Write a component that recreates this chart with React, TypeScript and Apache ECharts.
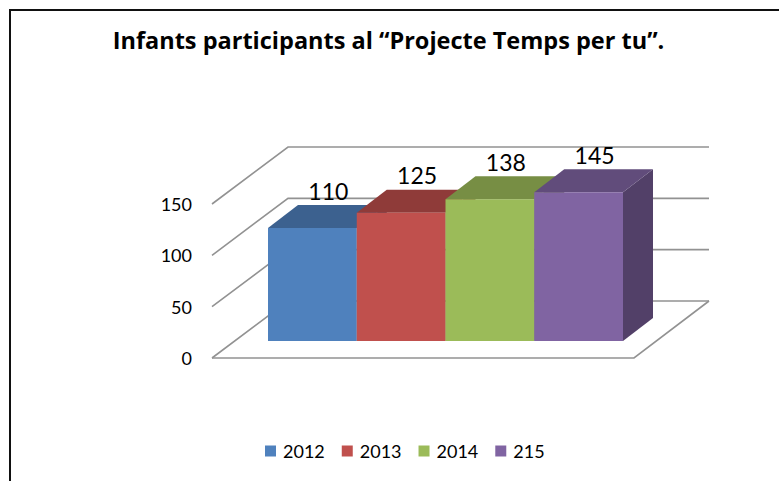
import React, { useEffect, useRef } from "react";
import * as echarts from "echarts";

const titleText = "Infants participants al “Projecte Temps per tu”.";
const categories = ["2012", "2013", "2014", "215"];
const values = [110, 125, 138, 145];
const yTicks = [0, 50, 100, 150];
const frontColors = ["#4f81bd", "#c0504d", "#9bbb59", "#8064a2"];
const topColors = ["#3c618f", "#8f3b39", "#778e44", "#614c7b"];
const sideColors = ["#344f75", "#743130", "#617437", "#524068"];

const FONT = "Lato";
const GRID = { left: 268, top: 204, width: 355, height: 154 };
const WALL_LEFT_PAD = 56;
const WALL_RIGHT_FRONT_PAD = 11;
const WALL_DX = 76;
const WALL_DY = 57;
const BAR_LIFT = 17;
const BAR_DX = 30;
const BAR_DY = 23;
const WALL_STROKE = { stroke: "#929292", lineWidth: 1.6, fill: "none" };

function renderWall(params: any, api: any) {
  const v = api.value(0);
  const y = api.coord([0, v])[1];
  const x0 = GRID.left - WALL_LEFT_PAD;
  const x1 = GRID.left + GRID.width + WALL_RIGHT_FRONT_PAD;
  const children: any[] = [
    {
      type: "polyline",
      shape: { points: [[x0, y], [x0 + WALL_DX, y - WALL_DY], [x1 + WALL_DX - 1, y - WALL_DY]] },
      style: WALL_STROKE,
    },
  ];
  if (v === 0) {
    children.push({
      type: "polyline",
      shape: { points: [[x0, y], [x1, y], [x1 + WALL_DX - 1, y - WALL_DY]] },
      style: WALL_STROKE,
    });
  }
  return { type: "group", children };
}

function makeBarRenderer(i: number) {
  return (params: any, api: any) => {
    const v = api.value(1);
    const band = api.size([1, 0])[0];
    const c = api.coord([api.value(0), v]);
    const base = api.coord([api.value(0), 0]);
    const l = c[0] - band / 2;
    const r = l + band;
    const t = c[1] - BAR_LIFT;
    const b = base[1] - BAR_LIFT;
    return {
      type: "group",
      children: [
        {
          type: "polygon",
          shape: { points: [[r, t], [r + BAR_DX, t - BAR_DY], [r + BAR_DX, b - BAR_DY], [r, b]] },
          style: { fill: sideColors[i] },
        },
        {
          type: "polygon",
          shape: { points: [[l, t], [l + BAR_DX, t - BAR_DY], [r + BAR_DX, t - BAR_DY], [r, t]] },
          style: { fill: topColors[i] },
        },
        {
          type: "rect",
          shape: { x: l, y: t, width: band, height: b - t },
          style: { fill: frontColors[i] },
        },
        {
          type: "text",
          style: {
            text: String(v),
            x: (l + r) / 2 + 16,
            y: t - 37.5,
            align: "center",
            verticalAlign: "middle",
            fill: "#000",
            font: `23px ${FONT}`,
          },
        },
      ],
    };
  };
}

export default function App() {
  const ref = useRef<HTMLDivElement>(null);
  useEffect(() => {
    const chart = echarts.init(ref.current!, undefined, { renderer: "svg" });
    chart.setOption({
      animation: false,
      backgroundColor: "#fff",
      title: {
        text: titleText,
        left: 383.5,
        top: 23,
        textAlign: "center",
        textStyle: { fontFamily: "Open Sans", fontWeight: "bold", fontSize: 23.5, color: "#000" },
      },
      legend: {
        data: categories,
        left: 260,
        top: 437,
        icon: "rect",
        itemWidth: 11,
        itemHeight: 11,
        itemGap: 17,
        textStyle: { fontFamily: FONT, fontSize: 18, color: "#000", padding: [0, 0, 0, 2] },
      },
      grid: { ...GRID, containLabel: false },
      xAxis: {
        type: "category",
        data: categories,
        axisLine: { show: false },
        axisTick: { show: false },
        axisLabel: { show: false },
      },
      yAxis: {
        type: "value",
        min: 0,
        max: 150,
        interval: 50,
        axisLine: { show: false },
        axisTick: { show: false },
        splitLine: { show: false },
        axisLabel: { margin: 76, fontFamily: FONT, fontSize: 18, color: "#000" },
      },
      graphic: [
        { type: "line", shape: { x1: 10, y1: 10, x2: 779, y2: 10 }, style: { stroke: "#111", lineWidth: 2 } },
        { type: "line", shape: { x1: 10, y1: 9, x2: 10, y2: 481 }, style: { stroke: "#111", lineWidth: 2 } },
      ],
      series: [
        {
          type: "custom",
          name: "walls",
          silent: true,
          clip: false,
          renderItem: renderWall,
          data: yTicks.map((t) => [t]),
          encode: { y: 0 },
          z: 1,
        },
        ...categories.map((name, i) => ({
          type: "custom",
          name,
          clip: false,
          itemStyle: { color: frontColors[i] },
          renderItem: makeBarRenderer(i),
          data: [[i, values[i]]],
          encode: { x: 0, y: 1 },
          z: 2 + i,
        })),
      ],
    });
    return () => chart.dispose();
  }, []);
  return <div ref={ref} style={{ position: "fixed", left: 0, top: 0, width: 779, height: 481 }} />;
}
